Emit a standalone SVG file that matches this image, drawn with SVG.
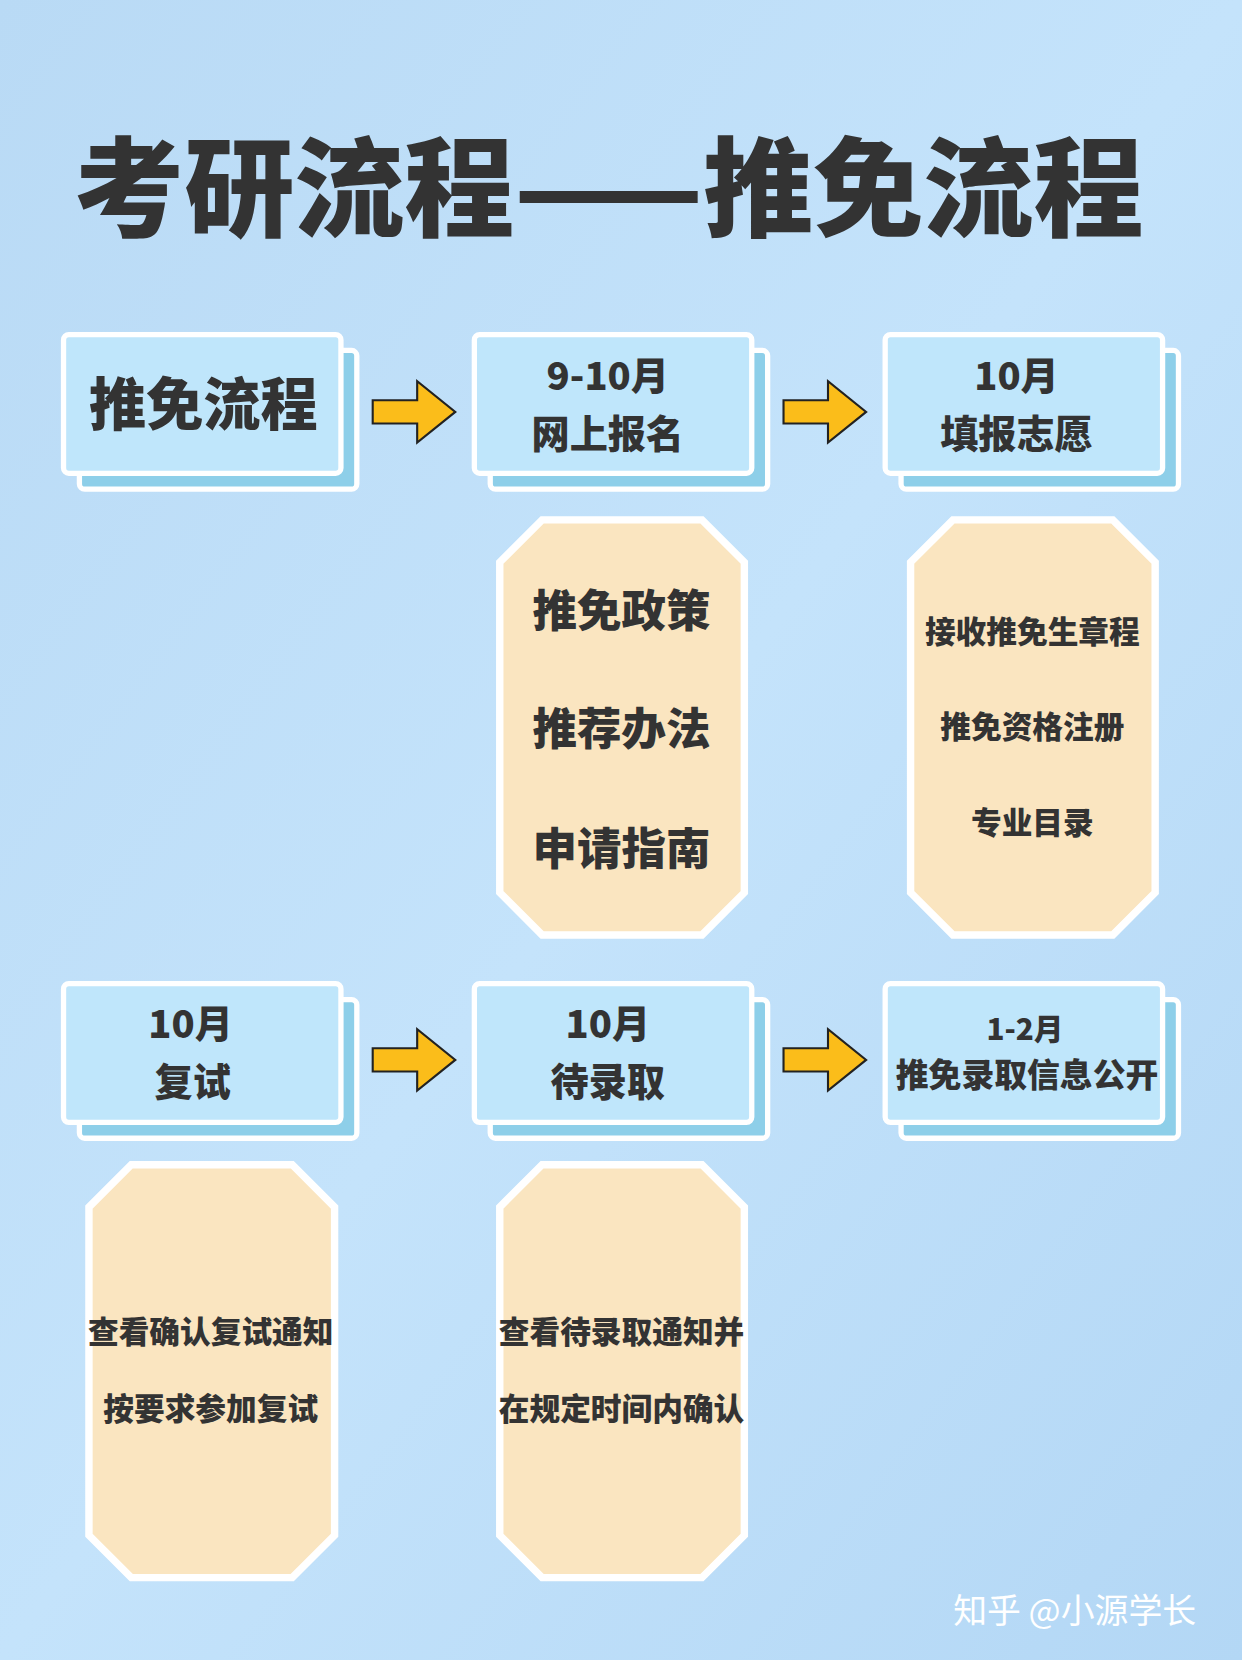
<svg xmlns="http://www.w3.org/2000/svg" width="1242" height="1660" viewBox="0 0 1242 1660">
<style>
text{font-family:"Noto Sans CJK SC","Liberation Sans",sans-serif;font-weight:900;fill:#333;text-anchor:middle}
.back{fill:#8ecfe9;stroke:#fff;stroke-width:5}
.front{fill:#bfe6fb;stroke:#fff;stroke-width:5}
.oct{fill:#fae5c0;stroke:#fff;stroke-width:7}
.arr{fill:#fbbd1a;stroke:#222;stroke-width:2}
</style>
<defs>
<linearGradient id="bg" x1="0" y1="0" x2="1" y2="1">
<stop offset="0" stop-color="#b9daf5"/><stop offset="0.5" stop-color="#c4e3fb"/><stop offset="1" stop-color="#b3d7f5"/>
</linearGradient>
<path id="a" class="arr" d="M0,-11 H42 V-29 L78,0 L42,29 V11 H0 Z"/>
</defs>
<rect width="1242" height="1660" fill="url(#bg)"/>
<g transform="scale(1.05882)">
<text x="575" y="215" font-size="102" textLength="1010" lengthAdjust="spacingAndGlyphs">考研流程——推免流程</text>
<g id="n1"><rect class="back" x="75" y="331" width="262" height="131" rx="5"/><rect class="front" x="60" y="316" width="262" height="131" rx="5"/><text x="192" y="401" font-size="54">推免流程</text></g>
<g id="n2"><rect class="back" x="463" y="331" width="262" height="131" rx="5"/><rect class="front" x="448" y="316" width="262" height="131" rx="5"/><text x="574" y="368" font-size="36">9-10月</text><text x="574" y="423" font-size="36">网上报名</text></g>
<g id="n3"><rect class="back" x="851" y="331" width="262" height="131" rx="5"/><rect class="front" x="836" y="316" width="262" height="131" rx="5"/><text x="960" y="368" font-size="36">10月</text><text x="960" y="423" font-size="36">填报志愿</text></g>
<g id="n4"><rect class="back" x="75" y="944" width="262" height="131" rx="5"/><rect class="front" x="60" y="929" width="262" height="131" rx="5"/><text x="180" y="980" font-size="36">10月</text><text x="182" y="1035" font-size="36">复试</text></g>
<g id="n5"><rect class="back" x="463" y="944" width="262" height="131" rx="5"/><rect class="front" x="448" y="929" width="262" height="131" rx="5"/><text x="574" y="980" font-size="36">10月</text><text x="574" y="1035" font-size="36">待录取</text></g>
<g id="n6"><rect class="back" x="851" y="944" width="262" height="131" rx="5"/><rect class="front" x="836" y="929" width="262" height="131" rx="5"/><text x="968" y="982" font-size="28">1-2月</text><text x="970" y="1027" font-size="31">推免录取信息公开</text></g>
<g id="o1"><path class="oct" d="M512,491 H663 L703,531 V843 L663,883 H512 L472,843 V531 Z"/><text x="587" y="592" font-size="42">推免政策</text><text x="587" y="704" font-size="42">推荐办法</text><text x="587" y="817" font-size="42">申请指南</text></g>
<g id="o2"><path class="oct" d="M900,491 H1051 L1091,531 V843 L1051,883 H900 L860,843 V531 Z"/><text x="975" y="607" font-size="29">接收推免生章程</text><text x="975" y="697" font-size="29">推免资格注册</text><text x="975" y="788" font-size="29">专业目录</text></g>
<g id="o3"><path class="oct" d="M124,1100 H276 L316,1140 V1450 L276,1490 H124 L84,1450 V1140 Z"/><text x="199" y="1268" font-size="29">查看确认复试通知</text><text x="199" y="1341" font-size="29">按要求参加复试</text></g>
<g id="o4"><path class="oct" d="M512,1100 H663 L703,1140 V1450 L663,1490 H512 L472,1450 V1140 Z"/><text x="587" y="1268" font-size="29">查看待录取通知并</text><text x="587" y="1341" font-size="29">在规定时间内确认</text></g>
<g id="connectors">
<use href="#a" x="352" y="389"/><use href="#a" x="740" y="389"/>
<use href="#a" x="352" y="1001"/><use href="#a" x="740" y="1001"/>
</g>
<text x="1015" y="1533" font-size="32" style="fill:#fff;font-weight:400">知乎 @小源学长</text>
</g>
</svg>
